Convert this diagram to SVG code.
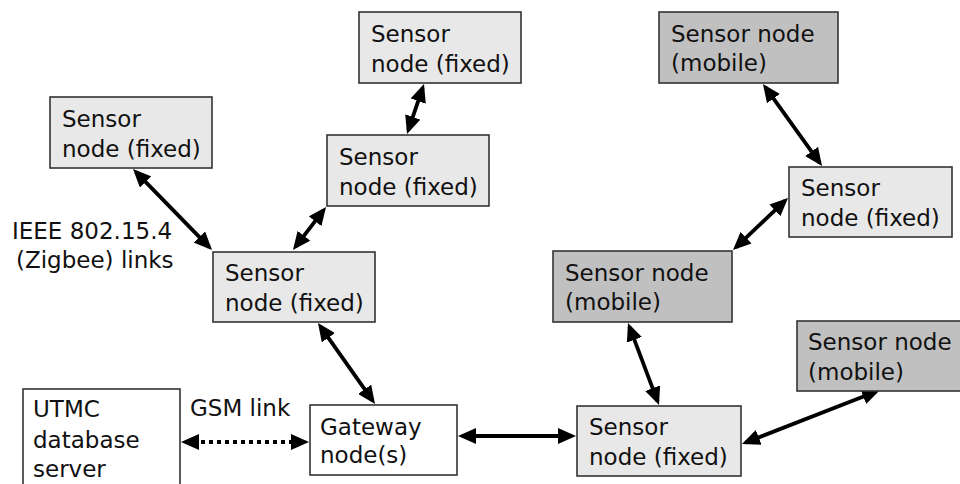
<svg xmlns="http://www.w3.org/2000/svg" width="960" height="484" viewBox="0 0 960 484">
  <style>
    .box { stroke: #333333; stroke-width: 1.6; }
    .fixed { fill: #e8e8e8; }
    .mobile { fill: #c0c0c0; }
    .plain { fill: #ffffff; }
    text { font-family: "DejaVu Sans", Verdana, sans-serif; font-size: 23px; fill: #111111; }
    .link { stroke: #000000; stroke-width: 3.8; fill: none; marker-start: url(#head); marker-end: url(#head); }
    .dotted { stroke-dasharray: 4 4; stroke-width: 4; }
  </style>
  <defs>
    <marker id="head" viewBox="0 0 18 16" refX="14" refY="8" markerWidth="18" markerHeight="16" markerUnits="userSpaceOnUse" orient="auto-start-reverse">
      <path d="M0,0 L18,8 L0,16 z" fill="#000000"/>
    </marker>
  </defs>

  <rect width="960" height="484" fill="#ffffff"/>

  <!-- connectors: endpoints sit 4px inside the arrow tips -->
  <g id="connectors">
    <line class="link" x1="135.8" y1="171.9" x2="209.2" y2="247.1"/>
    <line class="link" x1="295.4" y1="246.8" x2="323.6" y2="210.2"/>
    <line class="link" x1="408.3" y1="130.2" x2="422.7" y2="87.8"/>
    <line class="link" x1="372.7" y1="400.7" x2="320.3" y2="326.3"/>
    <line class="link" x1="462" y1="436" x2="572" y2="436"/>
    <line class="link dotted" x1="185" y1="442" x2="305" y2="442"/>
    <line class="link" x1="765.3" y1="87.2" x2="819.7" y2="162.8"/>
    <line class="link" x1="785.1" y1="200.7" x2="735.9" y2="247.3"/>
    <line class="link" x1="629.4" y1="326.7" x2="657.6" y2="401.3"/>
    <line class="link" x1="745.7" y1="442.5" x2="876.3" y2="391.5"/>
  </g>

  <!-- link labels -->
  <g id="labels">
    <text x="12" y="239">IEEE 802.15.4</text>
    <text x="16" y="268">(Zigbee) links</text>
    <text x="190" y="416">GSM link</text>
  </g>

  <!-- nodes -->
  <g id="fixed-top">
    <rect class="box fixed" x="359" y="12" width="162" height="71"/>
    <text x="371" y="42">Sensor</text>
    <text x="371" y="72">node (fixed)</text>
  </g>
  <g id="fixed-middle">
    <rect class="box fixed" x="327" y="135" width="162" height="71"/>
    <text x="339" y="165">Sensor</text>
    <text x="339" y="195">node (fixed)</text>
  </g>
  <g id="fixed-left">
    <rect class="box fixed" x="50" y="97" width="162" height="71"/>
    <text x="62" y="127">Sensor</text>
    <text x="62" y="157">node (fixed)</text>
  </g>
  <g id="fixed-centre">
    <rect class="box fixed" x="213" y="252" width="162" height="70"/>
    <text x="225" y="281">Sensor</text>
    <text x="225" y="311">node (fixed)</text>
  </g>
  <g id="mobile-top">
    <rect class="box mobile" x="659" y="12" width="179" height="71"/>
    <text x="671" y="42">Sensor node</text>
    <text x="671" y="71">(mobile)</text>
  </g>
  <g id="fixed-right">
    <rect class="box fixed" x="789" y="167" width="163" height="70"/>
    <text x="801" y="196">Sensor</text>
    <text x="801" y="226">node (fixed)</text>
  </g>
  <g id="mobile-middle">
    <rect class="box mobile" x="553" y="251" width="179" height="71"/>
    <text x="565" y="281">Sensor node</text>
    <text x="565" y="310">(mobile)</text>
  </g>
  <g id="mobile-bottom">
    <rect class="box mobile" x="797" y="321" width="170" height="70"/>
    <text x="808" y="350">Sensor node</text>
    <text x="808" y="380">(mobile)</text>
  </g>
  <g id="fixed-bottom">
    <rect class="box fixed" x="577" y="406" width="164" height="70"/>
    <text x="589" y="435">Sensor</text>
    <text x="589" y="465">node (fixed)</text>
  </g>
  <g id="gateway">
    <rect class="box plain" x="310" y="405" width="147" height="70"/>
    <text x="320" y="435">Gateway</text>
    <text x="320" y="463">node(s)</text>
  </g>
  <g id="utmc-server">
    <rect class="box plain" x="23" y="389" width="157" height="110"/>
    <text x="33" y="417">UTMC</text>
    <text x="33" y="448">database</text>
    <text x="33" y="477">server</text>
  </g>
</svg>
